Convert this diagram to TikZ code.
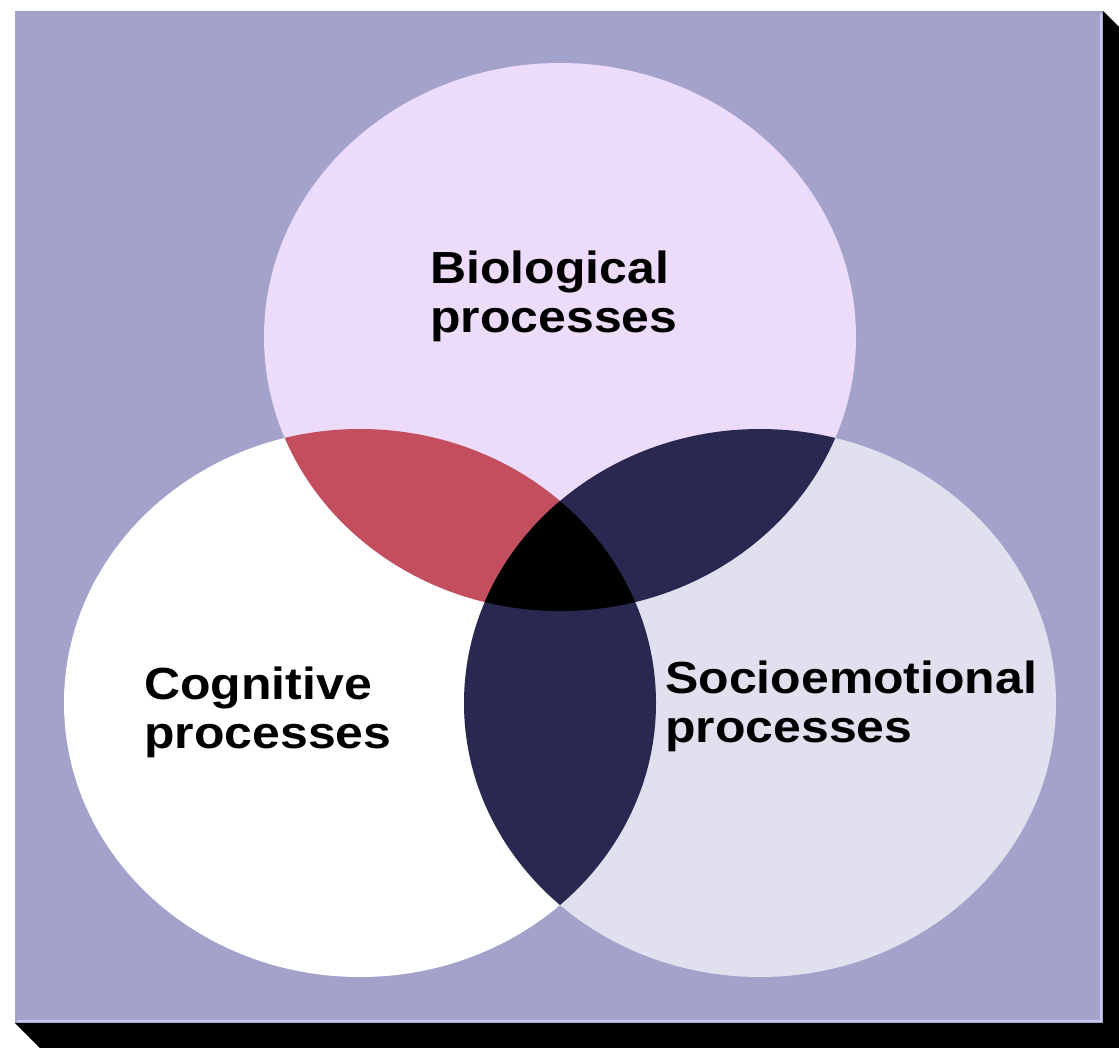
\documentclass[tikz,border=0pt]{standalone}
\usepackage{fontspec}
\setmainfont{Liberation Sans}
\definecolor{panelblue}{HTML}{A2A2CB}
\definecolor{biofill}{HTML}{ECDCF9}
\definecolor{cogfill}{HTML}{FFFFFF}
\definecolor{sociofill}{HTML}{E1E0EF}
\definecolor{biocog}{HTML}{C24E5E}
\definecolor{darkoverlap}{HTML}{282850}
\definecolor{edgelight}{HTML}{C8C8EC}
\begin{document}
\begin{tikzpicture}[x=1pt,y=-1pt,
  labeltext/.style={anchor=north west, inner sep=0pt, align=left,
    font=\fontsize{45}{49}\selectfont\bfseries, xscale=1.11, transform shape}]
\useasboundingbox (0,0) rectangle (1119,1047);

% extruded edge of the panel
\begin{scope}
  \clip (0,0) rectangle (1119,1047);
  \fill[black] (1103,11) -- (1133,41) -- (1133,1053) -- (45,1053)
               -- (15,1023) -- (1103,1023) -- cycle;
\end{scope}

% panel
\fill[panelblue] (15,11) rectangle (1103,1023);
\draw[edgelight, line width=2pt] (1101,14) -- (1101,1021) -- (17,1021);

% the three circles (slightly wide ellipses)
\def\rx{296}
\def\ry{274}
\fill[cogfill]   (360,703) ellipse [x radius=\rx, y radius=\ry];
\fill[sociofill] (760,703) ellipse [x radius=\rx, y radius=\ry];
\fill[biofill]   (560,337) ellipse [x radius=\rx, y radius=\ry];

% pairwise overlaps
\begin{scope}
  \clip (560,337) ellipse [x radius=\rx, y radius=\ry];
  \fill[biocog] (360,703) ellipse [x radius=\rx, y radius=\ry];
  \fill[darkoverlap] (760,703) ellipse [x radius=\rx, y radius=\ry];
\end{scope}
\begin{scope}
  \clip (360,703) ellipse [x radius=\rx, y radius=\ry];
  \fill[darkoverlap] (760,703) ellipse [x radius=\rx, y radius=\ry];
\end{scope}

% overlap of all three
\begin{scope}
  \clip (560,337) ellipse [x radius=\rx, y radius=\ry];
  \clip (360,703) ellipse [x radius=\rx, y radius=\ry];
  \fill[black] (760,703) ellipse [x radius=\rx, y radius=\ry];
\end{scope}

% labels
\node[labeltext] (bio) at (430,251) {Biological\\processes};
\node[labeltext] (cog) at (144,667) {Cognitive\\processes};
\node[labeltext] (socio) at (665,661) {Socioemotional\\processes};
\end{tikzpicture}
\end{document}
